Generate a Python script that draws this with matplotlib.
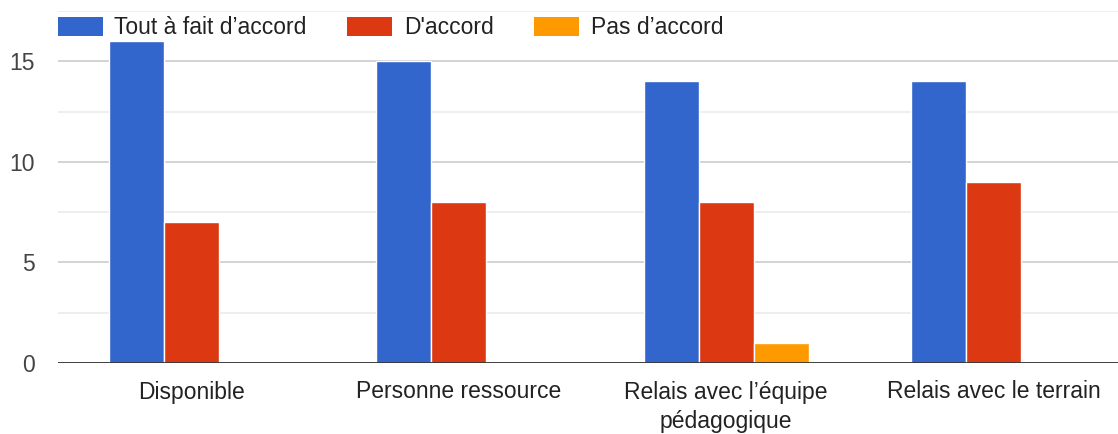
import numpy as np
import matplotlib.pyplot as plt
from matplotlib.patches import Patch

plt.rcParams["font.family"] = ["Liberation Sans", "DejaVu Sans"]

categories = ["Disponible", "Personne ressource",
              "Relais avec l’équipe\npédagogique", "Relais avec le terrain"]
series_names = ["Tout à fait d’accord", "D'accord", "Pas d’accord"]
tout_a_fait = [16, 15, 14, 14]
d_accord = [7, 8, 8, 9]
pas_d_accord = [0, 0, 1, 0]
colors = ["#3366cc", "#dc3912", "#ff9900"]

FS = 16.5

fig = plt.figure(figsize=(11.18, 4.34), dpi=100)
ax = fig.add_axes([58 / 1118, 1 - 363 / 434, 1 - 58 / 1118, 352 / 434])

x = np.arange(len(categories))
w = 0.206
for i, vals in enumerate([tout_a_fait, d_accord, pas_d_accord]):
    ax.bar(x + (i - 1) * w, vals, w, color=colors[i], edgecolor="white",
           linewidth=1, zorder=3)

# plot area is a bit wider than the picture, right side is cut off
ax.set_xlim(-0.5, -0.5 + 1060 / 267.3)
ax.set_ylim(0, 17.5)
ax.set_yticks([0, 5, 10, 15])
ax.set_yticks([2.5, 7.5, 12.5, 17.5], minor=True)
ax.grid(axis="y", which="major", color="#cccccc", linewidth=1.2, zorder=0)
ax.grid(axis="y", which="minor", color="#ebebeb", linewidth=1.2, zorder=0)
ax.axhline(0, color="#333333", linewidth=2, zorder=4)

ax.set_xticks(x)
ax.set_xticklabels(categories, fontsize=FS, color="#222222", linespacing=1.38)
ax.tick_params(axis="x", length=0, pad=12.6)
ax.tick_params(axis="y", which="both", length=0, pad=16.5, labelsize=FS,
               labelcolor="#444444")
for s in ax.spines.values():
    s.set_visible(False)

handles = [Patch(facecolor=c, edgecolor="none") for c in colors]
fig.legend(handles, series_names, loc="center left",
           bbox_to_anchor=(37 / 1118, 1 - 28 / 434), ncol=3, frameon=False,
           fontsize=FS, handlelength=1.96, handleheight=0.87,
           handletextpad=0.52, columnspacing=1.76, labelcolor="#222222")

fig.savefig("out.png", dpi=100)
